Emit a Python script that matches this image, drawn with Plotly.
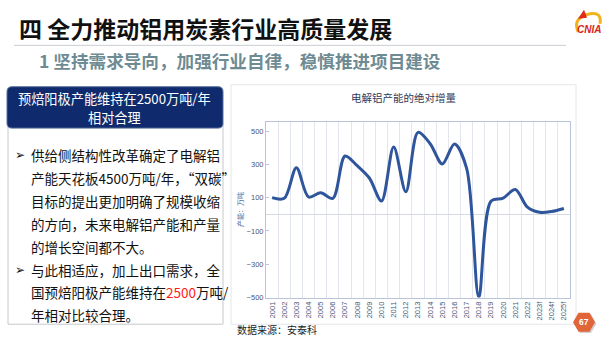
import plotly.graph_objects as go
import math

W, H = 610, 344

# ---- data ----
years = ["2001", "2002", "2003", "2004", "2005", "2006", "2007", "2008", "2009", "2010",
         "2011", "2012", "2013", "2014", "2015", "2016", "2017", "2018", "2019", "2020",
         "2021", "2022", "2023f", "2024f", "2025f"]
increment = [100, 96, 280, 104, 129, 96, 350, 292, 218, 80,
             404, 135, 492, 424, 302, 422, 276, -498, 78, 97,
             149, 43, 12, 17, 35]
y_ticks = [-500, -300, -100, 100, 300, 500]

title_text = "四 全力推动铝用炭素行业高质量发展"
subtitle_text = "1 坚持需求导向，加强行业自律，稳慎推进项目建设"
header_lines = ["预焙阳极产能维持在2500万吨/年", "相对合理"]
body_lines = [
    ("➢", "供给侧结构性改革确定了电解铝"),
    ("", "产能天花板4500万吨/年，“双碳”"),
    ("", "目标的提出更加明确了规模收缩"),
    ("", "的方向，未来电解铝产能和产量"),
    ("", "的增长空间都不大。"),
    ("➢", "与此相适应，加上出口需求，全"),
    ("", "国预焙阳极产能维持在<span style='color:#ff1a1a'>2500</span>万吨/"),
    ("", "年相对比较合理。"),
]
chart_title = "电解铝产能的绝对增量"
y_title = "产能：万吨"
source_text = "数据来源：安泰科"
page_no = "67"

FONT = "Noto Sans CJK SC, Noto Sans, sans-serif"


def px(x):
    return x / W


def py(y):
    return 1 - y / H


def rrect(x0, y0, x1, y1, r):
    X0, X1 = px(x0), px(x1)
    Y0, Y1 = py(y0), py(y1)
    rx, ry = r / W, r / H
    return (f"M{X0+rx},{Y0} L{X1-rx},{Y0} Q{X1},{Y0} {X1},{Y0-ry} "
            f"L{X1},{Y1+ry} Q{X1},{Y1} {X1-rx},{Y1} L{X0+rx},{Y1} "
            f"Q{X0},{Y1} {X0},{Y1+ry} L{X0},{Y0-ry} Q{X0},{Y0} {X0+rx},{Y0} Z")


fig = go.Figure()
fig.add_trace(go.Scatter(
    x=years, y=increment, mode="lines",
    line=dict(color="#2f559c", width=3, shape="spline", smoothing=0.9),
    hoverinfo="skip", showlegend=False,
))

shapes = []
# title underline
shapes.append(dict(type="line", xref="paper", yref="paper", x0=px(14), x1=px(566),
                   y0=py(46), y1=py(46), line=dict(color="#c9cdd2", width=1)))
# chart outer box
shapes.append(dict(type="rect", xref="paper", yref="paper", x0=px(231), x1=px(576),
                   y0=py(86), y1=py(329), line=dict(color="#e4e6ea", width=1),
                   fillcolor="rgba(0,0,0,0)", layer="below"))
# left body box
shapes.append(dict(type="rect", xref="paper", yref="paper", x0=px(8), x1=px(223),
                   y0=py(125), y1=py(329), line=dict(color="#c6c8cc", width=1),
                   fillcolor="white", layer="below"))
# header box
shapes.append(dict(type="path", xref="paper", yref="paper", path=rrect(7, 88, 223, 130, 5),
                   fillcolor="#0f2b6d", line=dict(color="#5a6f9e", width=1)))
# page number hexagon
cx, cy, r = 584, 327, 11
hex_pts = [(cx + r * math.cos(math.radians(a)), cy + r * math.sin(math.radians(a)))
           for a in range(0, 360, 60)]
shadow = "M" + " L".join(f"{px(x+1.5)},{py(y+1.5)}" for x, y in hex_pts) + " Z"
hexp = "M" + " L".join(f"{px(x)},{py(y)}" for x, y in hex_pts) + " Z"
shapes.append(dict(type="path", xref="paper", yref="paper", path=shadow,
                   fillcolor="rgba(120,120,120,0.35)", line=dict(width=0)))
shapes.append(dict(type="path", xref="paper", yref="paper", path=hexp,
                   fillcolor="#e0663a", line=dict(width=0)))
# logo arc
shapes.append(dict(type="path", xref="paper", yref="paper",
                   path=f"M{px(578)},{py(32)} Q{px(572)},{py(18)} {px(590)},{py(14)} "
                        f"Q{px(602)},{py(12)} {px(600)},{py(24)}",
                   line=dict(color="#f2b21b", width=3)))
shapes.append(dict(type="path", xref="paper", yref="paper",
                   path=f"M{px(578)},{py(19)} L{px(584)},{py(10)} L{px(587)},{py(18)} Z",
                   fillcolor="#e02a1c", line=dict(width=0)))

ann = []
ann.append(dict(text=f"<b>{title_text}</b>", x=px(17), y=py(28), xref="paper", yref="paper",
                xanchor="left", yanchor="middle", showarrow=False,
                font=dict(family=FONT, size=23, color="#111111")))
ann.append(dict(text=f"<b>{subtitle_text}</b>", x=px(37), y=py(61), xref="paper", yref="paper",
                xanchor="left", yanchor="middle", showarrow=False,
                font=dict(family=FONT, size=17.6, color="#6e8b93")))
ann.append(dict(text="<b><i>CNIA</i></b>", x=px(589), y=py(30), xref="paper", yref="paper",
                xanchor="center", yanchor="middle", showarrow=False,
                font=dict(family="Liberation Sans, sans-serif", size=10, color="#d8241a")))
for i, t in enumerate(header_lines):
    ann.append(dict(text=t, x=px(115), y=py(99.5 + 20 * i), xref="paper", yref="paper",
                    xanchor="center", yanchor="middle", showarrow=False,
                    font=dict(family=FONT, size=13.2, color="white")))
for i, (b, t) in enumerate(body_lines):
    yy = 157 + 23.3 * i
    if b:
        ann.append(dict(text=b, x=px(13), y=py(yy), xref="paper", yref="paper",
                        xanchor="left", yanchor="middle", showarrow=False,
                        font=dict(family="DejaVu Sans", size=12, color="#111111")))
    ann.append(dict(text=t, x=px(29), y=py(yy), xref="paper", yref="paper",
                    xanchor="left", yanchor="middle", showarrow=False,
                    font=dict(family=FONT, size=13.5, color="#111111")))
ann.append(dict(text=chart_title, x=px(404), y=py(99), xref="paper", yref="paper",
                xanchor="center", yanchor="middle", showarrow=False,
                font=dict(family=FONT, size=10.5, color="#2f3a5a")))
ann.append(dict(text=y_title, x=px(240), y=py(213), xref="paper", yref="paper",
                xanchor="center", yanchor="middle", showarrow=False, textangle=-90,
                font=dict(family=FONT, size=7, color="#5a6a90")))
ann.append(dict(text=source_text, x=px(235), y=py(334), xref="paper", yref="paper",
                xanchor="left", yanchor="middle", showarrow=False,
                font=dict(family=FONT, size=10, color="#222222")))
ann.append(dict(text=f"<b>{page_no}</b>", x=px(584), y=py(327), xref="paper", yref="paper",
                xanchor="center", yanchor="middle", showarrow=False,
                font=dict(family="Liberation Sans, sans-serif", size=8.5, color="white")))

fig.update_layout(
    width=W, height=H, margin=dict(l=0, r=0, t=0, b=0),
    paper_bgcolor="white", plot_bgcolor="white",
    shapes=shapes, annotations=ann,
    xaxis=dict(domain=[px(266), px(570)], type="category", range=[-0.5, len(years) - 0.5],
               tickson="boundaries", showgrid=True, gridcolor="#e3e6ec", gridwidth=1,
               ticks="", tickangle=-90, showline=True, linecolor="#b9c3d9", mirror=True,
               tickfont=dict(family="Liberation Sans, sans-serif", size=7.5, color="#4a5678"),
               zeroline=False, fixedrange=True),
    yaxis=dict(domain=[py(302), py(124)], range=[-500, 553], tickvals=y_ticks,
               showgrid=False, zeroline=True, zerolinecolor="#d6d9df", zerolinewidth=1,
               showline=True, linecolor="#b9c3d9", mirror=True, ticks="inside", ticklen=3,
               tickcolor="#b9c3d9",
               tickfont=dict(family="Liberation Sans, sans-serif", size=7.5, color="#4a5678"),
               fixedrange=True),
)

fig.write_html("out.html")
